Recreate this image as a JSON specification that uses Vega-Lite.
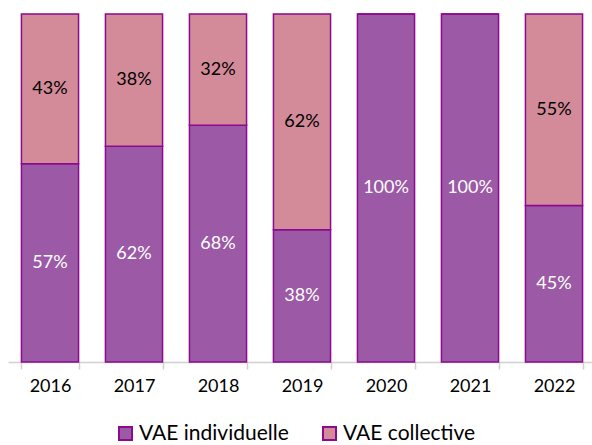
{
  "$schema": "https://vega.github.io/schema/vega-lite/v6.json",
  "width": 588,
  "height": 348,
  "autosize": {"type": "none"},
  "padding": {"left": 8, "top": 14, "right": 0, "bottom": 83},
  "background": "white",
  "config": {"view": {"stroke": null}, "font": "Lato"},
  "data": {"values": [
    {"year": "2016", "type": "VAE individuelle", "value": 0.57, "ord": 1},
    {"year": "2016", "type": "VAE collective", "value": 0.43, "ord": 2},
    {"year": "2017", "type": "VAE individuelle", "value": 0.62, "ord": 1},
    {"year": "2017", "type": "VAE collective", "value": 0.38, "ord": 2},
    {"year": "2018", "type": "VAE individuelle", "value": 0.68, "ord": 1},
    {"year": "2018", "type": "VAE collective", "value": 0.32, "ord": 2},
    {"year": "2019", "type": "VAE individuelle", "value": 0.38, "ord": 1},
    {"year": "2019", "type": "VAE collective", "value": 0.62, "ord": 2},
    {"year": "2020", "type": "VAE individuelle", "value": 1.0, "ord": 1},
    {"year": "2020", "type": "VAE collective", "value": 0, "ord": 2},
    {"year": "2021", "type": "VAE individuelle", "value": 1.0, "ord": 1},
    {"year": "2021", "type": "VAE collective", "value": 0, "ord": 2},
    {"year": "2022", "type": "VAE individuelle", "value": 0.45, "ord": 1},
    {"year": "2022", "type": "VAE collective", "value": 0.55, "ord": 2}
  ]},
  "encoding": {
    "x": {"field": "year", "type": "nominal", "scale": {"paddingInner": 0.32, "paddingOuter": 0.16},
      "axis": {"title": null, "labelAngle": 0, "labelFontSize": 18, "labelFont": "Lato", "labelFontWeight": "normal", "labelColor": "#000000", "labelPadding": 8,
        "tickBand": "extent", "tickSize": 7, "tickColor": "#d0d0d0", "domainColor": "#d0d0d0", "domainWidth": 1.5, "tickWidth": 1.5}},
    "y": {"field": "value", "type": "quantitative", "stack": "zero", "scale": {"domain": [0, 1]}, "axis": null},
    "order": {"field": "ord", "type": "quantitative"}
  },
  "layer": [
    {
      "mark": {"type": "bar", "stroke": "#8B0A8F", "strokeWidth": 1.5},
      "encoding": {
        "color": {"field": "type", "type": "nominal",
          "scale": {"domain": ["VAE individuelle", "VAE collective"], "range": ["#9C5AA6", "#D38A99"]},
          "legend": {"title": null, "orient": "none", "legendX": 107, "legendY": 409, "direction": "horizontal", "symbolType": "square", "symbolSize": 169,
            "symbolStrokeColor": "#8B0A8F", "symbolStrokeWidth": 2, "labelFontSize": 21, "labelFont": "Lato", "labelColor": "#000000", "labelOffset": 3, "columnPadding": 30}}
      }
    },
    {
      "transform": [{"filter": "datum.value > 0"}],
      "mark": {"type": "text", "fontSize": 18, "font": "Lato"},
      "encoding": {
        "y": {"field": "value", "type": "quantitative", "stack": "zero", "bandPosition": 0.5},
        "text": {"field": "value", "type": "quantitative", "format": ".0%"},
        "color": {"condition": {"test": "datum.type === 'VAE individuelle'", "value": "white"}, "value": "black"}
      }
    }
  ]
}
